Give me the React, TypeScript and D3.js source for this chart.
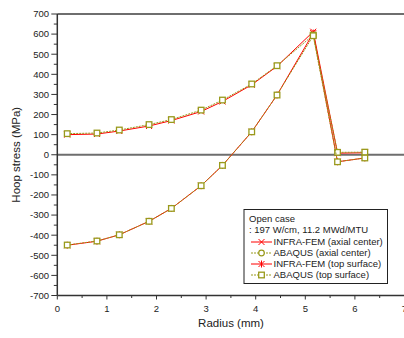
import React from "react";
import * as d3 from "d3";

const radius = [0.2, 0.8, 1.25, 1.85, 2.3, 2.9, 3.33, 3.92, 4.43, 5.16, 5.65, 6.2];
const infraAxial = [100, 103, 118, 143, 170, 215, 265, 348, 440, 612, 8, 10];
const abaqusAxial = [105, 108, 123, 150, 175, 222, 272, 352, 443, 595, 12, 13];
const infraTop = [-450, -430, -398, -331, -267, -154, -53, 114, 297, 605, -35, -16];
const abaqusTop = [-449, -429, -398, -331, -267, -154, -53, 114, 297, 592, -35, -16];
const yTicks = [-700, -600, -500, -400, -300, -200, -100, 0, 100, 200, 300, 400, 500, 600, 700];
const xTicks = [0, 1, 2, 3, 4, 5, 6, 7];
const legendTitle = ["Open case", ": 197 W/cm, 11.2 MWd/MTU"];
const legendLabels = [
  "INFRA-FEM (axial center)",
  "ABAQUS (axial center)",
  "INFRA-FEM (top surface)",
  "ABAQUS (top surface)",
];

const RED = "#ff0000";
const OLIVE = "#999a1c";
const FONT = "Liberation Sans, Arial, sans-serif";

function Marker({ kind, x, y, color }: { kind: string; x: number; y: number; color: string }) {
  const s = 3;
  if (kind === "x")
    return <path d={`M${x - s},${y - s}L${x + s},${y + s}M${x - s},${y + s}L${x + s},${y - s}`} stroke={color} strokeWidth={1} fill="none" />;
  if (kind === "star")
    return <path d={`M${x - s},${y - s}L${x + s},${y + s}M${x - s},${y + s}L${x + s},${y - s}M${x},${y - s - 0.5}L${x},${y + s + 0.5}`} stroke={color} strokeWidth={1} fill="none" />;
  if (kind === "circle") return <circle cx={x} cy={y} r={2.8} fill="#fff" stroke={color} strokeWidth={1.2} />;
  return <rect x={x - 2.8} y={y - 2.8} width={5.6} height={5.6} fill="#fff" stroke={color} strokeWidth={1.3} />;
}

export default function App() {
  const W = 404, H = 338;
  const x = d3.scaleLinear().domain([0, 7]).range([57.3, 404.5]);
  const y = d3.scaleLinear().domain([-700, 700]).range([295.5, 14]);
  const line = d3.line<[number, number]>().x((d) => x(d[0])).y((d) => y(d[1]));

  const series = [
    { vals: infraAxial, color: RED, marker: "x", dash: "", plotMarker: "x" },
    { vals: infraTop, color: RED, marker: "star", dash: "", plotMarker: "star" },
    { vals: abaqusAxial, color: OLIVE, marker: "circle", dash: "2,1", plotMarker: "square" },
    { vals: abaqusTop, color: OLIVE, marker: "square", dash: "2,1", plotMarker: "square" },
  ];
  const legendSeries = [series[0], series[2], series[1], series[3]];

  const yMinor = d3.range(-650, 700, 100);
  const xMinor = d3.range(0.5, 7, 1);

  return (
    <svg width={W} height={H} style={{ position: "absolute", left: 0, top: 0, background: "#fff" }} fontFamily={FONT}>
      <line x1={x(0)} x2={W} y1={y(700)} y2={y(700)} stroke="#6e6e6e" strokeWidth={2} />
      <line x1={x(0)} x2={W} y1={y(0)} y2={y(0)} stroke="#6e6e6e" strokeWidth={2} />
      <line x1={x(0)} x2={x(0)} y1={y(700)} y2={y(-700)} stroke="#333" strokeWidth={1.5} />
      <line x1={x(0)} x2={W} y1={y(-700)} y2={y(-700)} stroke="#333" strokeWidth={1.5} />

      {yTicks.map((t) => (
        <g key={"y" + t}>
          <line x1={x(0) - 6} x2={x(0)} y1={y(t)} y2={y(t)} stroke="#333" strokeWidth={1} />
          <text x={49} y={y(t)} dy="0.35em" textAnchor="end" fontSize={9.5} fill="#222">{t}</text>
        </g>
      ))}
      {yMinor.map((t) => (
        <line key={"ym" + t} x1={x(0) - 3.5} x2={x(0)} y1={y(t)} y2={y(t)} stroke="#333" strokeWidth={1} />
      ))}
      {xTicks.map((t) => (
        <g key={"x" + t}>
          <line x1={x(t)} x2={x(t)} y1={y(-700)} y2={y(-700) + 4} stroke="#333" strokeWidth={1} />
          <text x={x(t)} y={y(-700) + 16} textAnchor="middle" fontSize={9.5} fill="#222">{t}</text>
        </g>
      ))}
      {xMinor.map((t) => (
        <line key={"xm" + t} x1={x(t)} x2={x(t)} y1={y(-700)} y2={y(-700) + 2.5} stroke="#333" strokeWidth={1} />
      ))}

      <text x={231} y={327} textAnchor="middle" fontSize={11.5} fill="#222">Radius (mm)</text>
      <text transform={`translate(20,${y(0)}) rotate(-90)`} textAnchor="middle" fontSize={11.5} fill="#222">Hoop stress (MPa)</text>

      {series.map((s, i) => {
        const pts = radius.map((r, j) => [r, s.vals[j]] as [number, number]);
        return (
          <g key={"s" + i}>
            <path d={line(pts) || ""} fill="none" stroke={s.color} strokeWidth={1} strokeDasharray={s.dash} />
            {pts.map((p, j) => (
              <Marker key={j} kind={s.plotMarker} x={x(p[0])} y={y(p[1])} color={s.color} />
            ))}
          </g>
        );
      })}

      <rect x={244} y={209.5} width={143.5} height={74} fill="#fff" stroke="#222" strokeWidth={1} />
      <text x={249} y={222} fontSize={9.5} fill="#222">{legendTitle[0]}</text>
      <text x={249} y={233} fontSize={9.5} fill="#222">{legendTitle[1]}</text>
      {legendSeries.map((s, i) => {
        const ly = 242 + i * 11;
        return (
          <g key={"l" + i}>
            <line x1={251} x2={272} y1={ly} y2={ly} stroke={s.color} strokeWidth={1} strokeDasharray={s.dash} />
            <Marker kind={s.marker} x={261.5} y={ly} color={s.color} />
            <text x={273.5} y={ly} dy="0.35em" fontSize={9.5} fill="#222">{legendLabels[i]}</text>
          </g>
        );
      })}
    </svg>
  );
}
